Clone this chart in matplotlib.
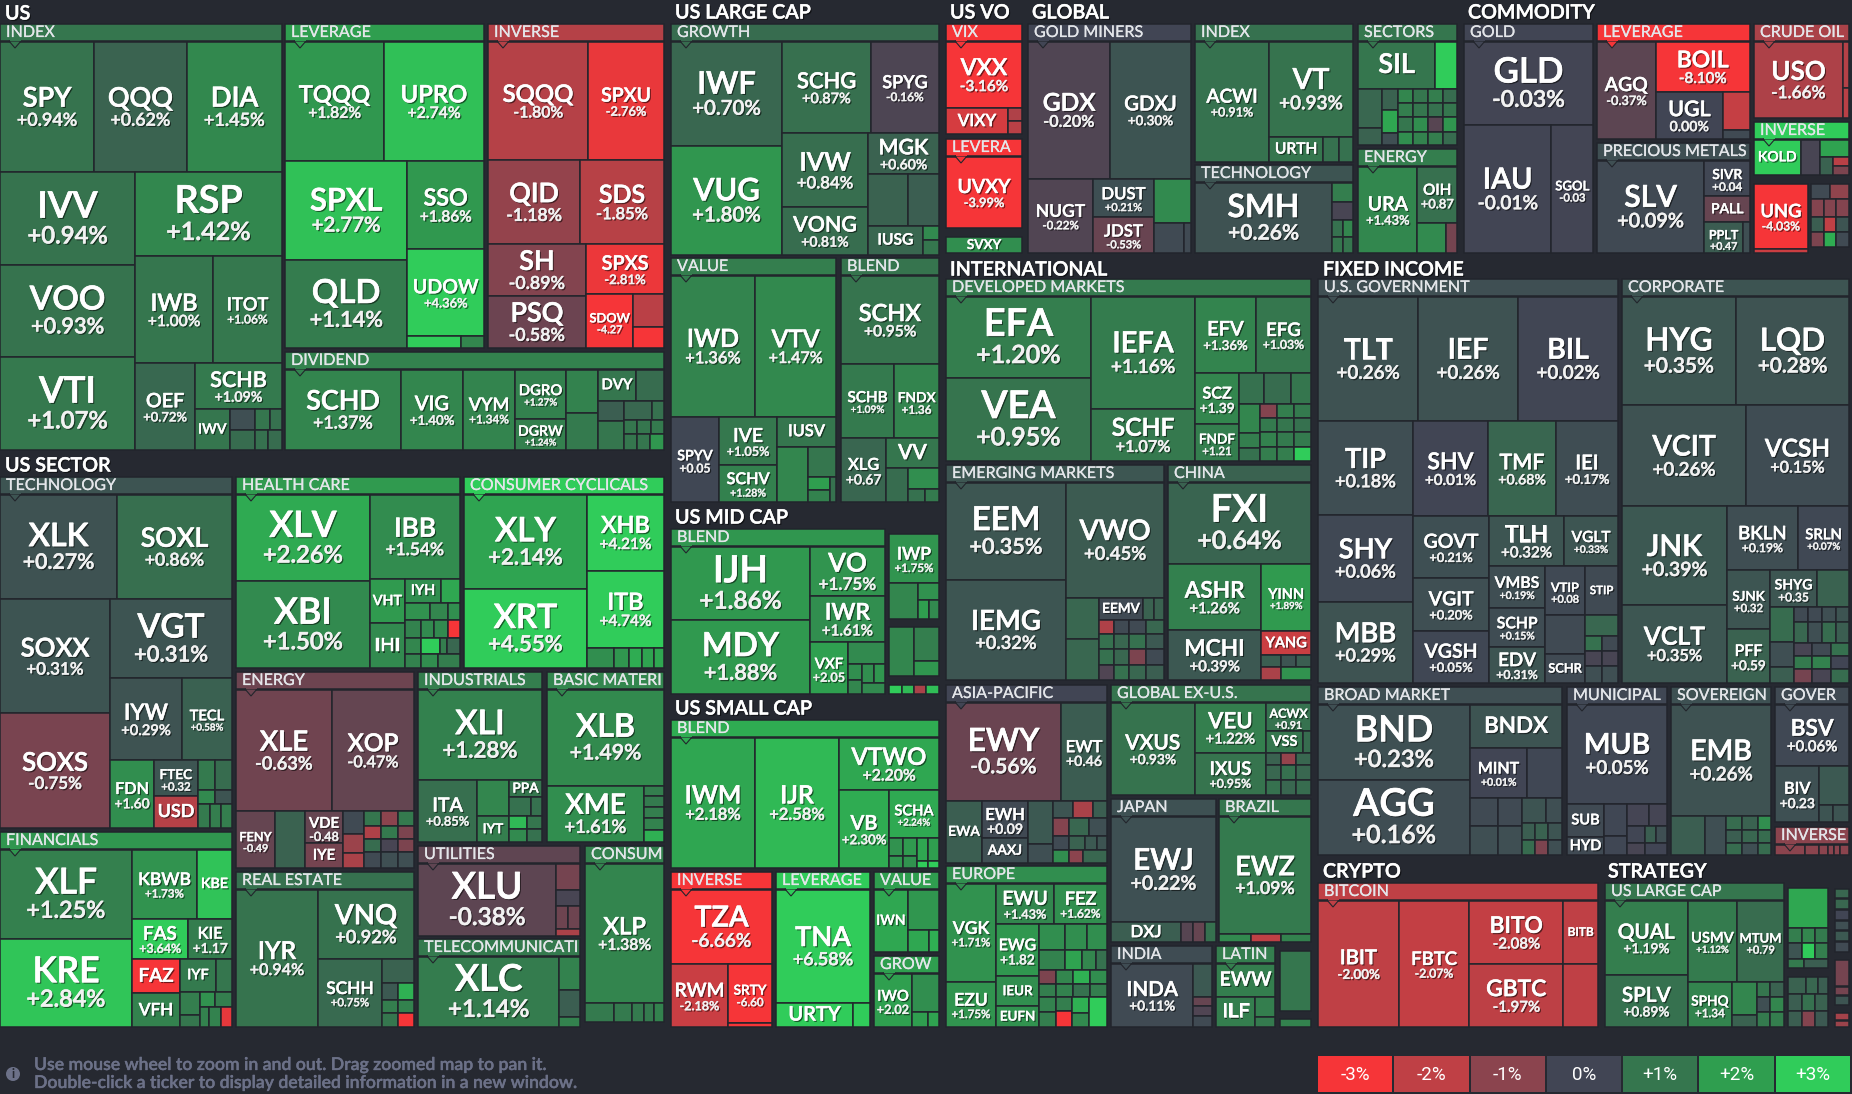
import numpy as np
import matplotlib
matplotlib.use("Agg")
import matplotlib.pyplot as plt
from matplotlib.patches import Rectangle, Polygon, Circle
from matplotlib.textpath import TextPath
from matplotlib.font_manager import FontProperties
import matplotlib.patheffects as pe

# ---------- data ----------
US_TICKERS = ["SPY","QQQ","DIA","IVV","RSP","VOO","IWB","ITOT","VTI","OEF","SCHB","IWV","TQQQ","UPRO","SPXL","SSO","QLD","UDOW","SQQQ","SPXU","QID","SDS","SH","SPXS","PSQ","SDOW","SCHD","VIG","VYM","DGRO","DGRW","DVY"]
US_CHANGES = [.94,.62,1.45,.94,1.42,.93,1.00,1.06,1.07,.72,1.09,1.0,1.82,2.74,2.77,1.86,1.14,4.36,-1.80,-2.76,-1.18,-1.85,-.89,-2.81,-.58,-4.27,1.37,1.40,1.34,1.27,1.24,1.0]
SECTOR_TICKERS = ["XLK","SOXL","SOXX","VGT","IYW","TECL","SOXS","FDN","FTEC","USD","XLV","IBB","XBI","VHT","IYH","IHI","XLY","XHB","XRT","ITB","XLE","XOP","FENY","VDE","IYE","XLI","ITA","PPA","IYT","XLB","XME","XLF","KBWB","KBE","KRE","FAS","KIE","FAZ","IYF","VFH","IYR","VNQ","SCHH","XLU","XLC","XLP"]
SECTOR_CHANGES = [.27,.86,.31,.31,.29,.58,-.75,1.60,.32,-1.8,2.26,1.54,1.50,1.9,1.6,1.5,2.14,4.21,4.55,4.74,-.63,-.47,-.49,-.48,-.7,1.28,.85,1.0,1.2,1.49,1.61,1.25,1.73,2.8,2.84,3.64,1.17,-3.8,1.1,1.3,.94,.92,.75,-.38,1.14,1.38]
LARGE_TICKERS = ["IWF","SCHG","SPYG","VUG","IVW","MGK","VONG","IUSG","IWD","VTV","SPYV","IVE","IUSV","SCHV","SCHX","FNDX","XLG","VV"]
LARGE_CHANGES = [.70,.87,-.16,1.80,.84,.60,.81,.7,1.36,1.47,.05,1.05,1.0,1.28,.95,1.36,.67,1.0]
MID_SMALL_TICKERS = ["IJH","VO","IWR","MDY","VXF","IWP","IWM","IJR","VTWO","VB","SCHA","TZA","RWM","SRTY","TNA","URTY","IWN","IWO"]
MID_SMALL_CHANGES = [1.86,1.75,1.61,1.88,2.05,1.75,2.18,2.58,2.20,2.30,2.24,-6.66,-2.18,-6.60,6.58,3.5,2.2,2.02]
VOL_TICKERS = ["VXX","VIXY","UVXY","SVXY"]
VOL_CHANGES = [-3.16,-2.4,-3.99,1.6]
GLOBAL_TICKERS = ["GDX","GDXJ","NUGT","DUST","JDST","ACWI","VT","URTH","SMH","SIL","URA","OIH"]
GLOBAL_CHANGES = [-.20,.30,-.22,.21,-.53,.91,.93,1.0,.26,1.0,1.43,.87]
COMMODITY_TICKERS = ["GLD","IAU","SGOL","AGQ","BOIL","UGL","SLV","SIVR","PALL","PPLT","USO","KOLD","UNG"]
COMMODITY_CHANGES = [-.03,-.01,-.03,-.37,-8.10,0.0,.09,.04,-.5,.47,-1.66,3.2,-4.03]
INTL_TICKERS = ["EFA","VEA","IEFA","SCHF","EFV","EFG","SCZ","FNDF","EEM","IEMG","VWO","EEMV","FXI","ASHR","YINN","MCHI","YANG","EWY","EWT","EWA","EWH","AAXJ","VXUS","VEU","IXUS","ACWX","VSS","EWJ","DXJ","EWZ","INDA","EWW","ILF","VGK","EWU","FEZ","EWG","IEUR","EZU","EUFN"]
INTL_CHANGES = [1.20,.95,1.16,1.07,1.36,1.03,1.39,1.21,.35,.32,.45,.1,.64,1.26,1.89,.39,-2.2,-.56,.46,.5,.09,.2,.93,1.22,.95,.91,1.0,.22,.5,1.09,.11,1.2,1.2,1.71,1.43,1.62,1.82,1.6,1.75,1.7]
FIXED_TICKERS = ["TLT","IEF","BIL","TIP","SHV","TMF","IEI","SHY","GOVT","TLH","VGLT","VMBS","VTIP","STIP","SCHP","EDV","SCHR","MBB","VGIT","VGSH","HYG","LQD","VCIT","VCSH","JNK","VCLT","BKLN","SRLN","SJNK","SHYG","PFF","BND","AGG","BNDX","MINT","MUB","SUB","HYD","EMB","BSV","BIV"]
FIXED_CHANGES = [.26,.26,.02,.18,.01,.68,.17,.06,.21,.32,.33,.19,.08,.1,.15,.31,.1,.29,.20,.05,.35,.28,.26,.15,.39,.35,.19,.07,.32,.35,.59,.23,.16,.3,.01,.05,.1,.1,.26,.06,.23]
CRYPTO_TICKERS = ["IBIT","FBTC","BITO","GBTC","BITB"]
CRYPTO_CHANGES = [-2.00,-2.07,-2.08,-1.97,-2.0]
STRATEGY_TICKERS = ["QUAL","USMV","MTUM","SPLV","SPHQ"]
STRATEGY_CHANGES = [1.19,1.12,.79,.89,1.34]

NO_PERCENT = {"SDOW","FDN","FTEC","FENY","VDE","KIE","SPYV","FNDX","XLG","VXF","SRTY","IWO","OIH","SGOL","SIVR","PPLT","SCZ","FNDF","EWT","EWH","ACWX","EWG","VTIP","SJNK","SHYG","PFF","BIV","MTUM","SPHQ"}
LABEL_ONLY = {"IWV","DVY","USD","VHT","IYH","IHI","IYE","PPA","IYT","KBE","FAZ","IYF","VFH","IUSG","IUSV","VV","URTY","IWN","VIXY","SVXY","URTH","SIL","PALL","KOLD","EEMV","YANG","EWA","AAXJ","VSS","DXJ","EWW","ILF","IEUR","EUFN","STIP","SCHR","BNDX","SUB","HYD","BITB"}

LEGEND_VALUES = [-3, -2, -1, 0, 1, 2, 3]
LEGEND_LABELS = ["-3%", "-2%", "-1%", "0%", "+1%", "+2%", "+3%"]
FOOTER_LINES = ["Use mouse wheel to zoom in and out. Drag zoomed map to pan it.",
                "Double-click a ticker to display detailed information in a new window."]

# ---------- style ----------
LEGEND_COLORS = ["#F63538", "#BF4045", "#8B444E", "#414554", "#35764E", "#2F9E4F", "#30CC5A"]
BG = "#262931"
EDGE = "#22252C"
FONT = "Lato"
WEIGHT = "semibold"
PT = 0.72  # points per pixel at dpi 100
FONT_PX = {"MDY":33,"VOO":33,"SMH":32,"BND":36,"SPXL":31,"QLD":33,"SIL":27,"ILF":20,"IHI":19,"USD":18,"FAZ":19,"URTY":20,"IAU":29,"IEFA":29,"EFV":20}

plt.rcParams["font.family"] = [FONT, "DejaVu Sans"]
CHG = dict(zip(US_TICKERS, US_CHANGES))
for t, c in [(SECTOR_TICKERS, SECTOR_CHANGES), (LARGE_TICKERS, LARGE_CHANGES), (MID_SMALL_TICKERS, MID_SMALL_CHANGES),
             (VOL_TICKERS, VOL_CHANGES), (GLOBAL_TICKERS, GLOBAL_CHANGES), (COMMODITY_TICKERS, COMMODITY_CHANGES),
             (INTL_TICKERS, INTL_CHANGES), (FIXED_TICKERS, FIXED_CHANGES), (CRYPTO_TICKERS, CRYPTO_CHANGES),
             (STRATEGY_TICKERS, STRATEGY_CHANGES)]:
    CHG.update(zip(t, c))

rgb = np.array([matplotlib.colors.to_rgb(c) for c in LEGEND_COLORS])
def colour(v):
    return tuple(np.interp(v, LEGEND_VALUES, rgb[:, i]) for i in range(3))

# ---------- treemap split structure: size, child, size, child ... ----------
def H(*a): return ("H", a[0::2], a[1::2])
def V(*a): return ("V", a[0::2], a[1::2])

SECTION_TITLES = [("US",5,14),("US SECTOR",5,466),("US LARGE CAP",675,13),("US MID CAP",675,518),("US SMALL CAP",675,709),
                  ("US VO",950,13),("GLOBAL",1032,13),("COMMODITY",1468,13),("INTERNATIONAL",950,270),("FIXED INCOME",1323,270),
                  ("CRYPTO",1323,872),("STRATEGY",1608,872)]

# name, left, top, right, bottom, header change, tree
PANELS = [
("INDEX",0,24,282,450,1.0,V(131,H(94,"SPY",93,"QQQ",95,"DIA"),278,H(135,V(92,"IVV",92,"VOO",93,"VTI"),147,V(84,"RSP",107,H(78,"IWB",69,"ITOT"),87,H(60,"OEF",87,V(46,"SCHB",41,H(35,"IWV",26,V(21,.2,20,.8),27,V(21,H(15,1.0,12,.9),20,H(13,.9,14,.8))))))))),
("LEVERAGE",285,24,484,348,2.0,V(120,H(99,"TQQQ",100,"UPRO"),187,H(123,V(99,"SPXL",88,"QLD"),77,V(88,"SSO",87,"UDOW",12,H(54,3.2,23,1.4))))),
("INVERSE",488,24,664,348,-1.8,V(119,H(100,"SQQQ",76,"SPXU"),84,H(92,"QID",84,"SDS"),104,H(98,V(52,"SH",52,"PSQ"),78,V(50,"SPXS",54,H(47,"SDOW",31,V(33,-1.9,21,-3.0)))))),
("DIVIDEND",285,352,664,450,1.3,H(116,"SCHD",62,"VIG",52,"VYM",51,V(50,"DGRO",32,"DGRW"),32,V(44,1.3,38,1.1),66,V(32,H(38,"DVY",28,.8),50,H(26,V(20,.5,30,1.0),40,V(19,H(28,.7,12,.9),15,H(13,1.0,13,1.0,13,1.1),16,H(13,1.0,13,1.0,14,1.8)))))),
("TECHNOLOGY",0,477,232,828,.3,V(105,H(117,"XLK",115,"SOXL"),229,H(110,V(114,"SOXX",115,"SOXS"),122,V(79,"VGT",82,H(72,"IYW",50,"TECL"),68,H(44,"FDN",44,V(36,"FTEC",32,"USD"),34,V(30,H(18,1.1,17,.8),14,H(18,1.5,17,.3),24,H(12,1.1,12,1.2,11,1.2))))))),
("HEALTH CARE",236,477,460,668,1.9,H(134,V(87,"XLV",88,"XBI"),90,V(85,"IBB",90,H(35,V(45,"VHT",45,"IHI"),55,V(24,H(36,"IYH",19,2.2),18,H(25,1.7,18,1.4,12,1.6),18,H(16,1.3,13,1.5,14,1.5,12,-3.2),16,H(16,1.4,19,3.0,7,1.2,13,.7),14,H(16,1.3,17,1.6,22,1.2)))))),
("CONSUMER CYCLICALS",464,477,664,668,3.0,H(123,V(95,"XLY",80,"XRT"),77,V(77,"XHB",78,"ITB",20,H(27,1.6,15,1.8,13,2.3,12,2.1,10,2.2)))),
("ENERGY",236,672,414,868,-.6,V(123,H(96,"XLE",82,"XOP"),57,H(39,"FENY",30,.6,38,V(32,"VDE",25,"IYE"),21,V(23,.1,19,-1.3,15,-1.6),50,V(15,H(17,1.0,17,-1.0,16,1.1),13,H(17,-1.7,17,1.1,16,-.8),13,H(17,.8,17,-.1,16,-.8),16,H(17,.1,17,.2,16,.2))))),
("INDUSTRIALS",418,672,542,842,1.2,V(91,"XLI",63,H(59,"ITA",32,V(37,1.4,26,"IYT"),33,V(18,"PPA",19,H(22,.9,11,.9),13,H(18,2.6,15,1.0),13,H(18,1.5,15,.9))))),
("BASIC MATERI",547,672,664,842,1.4,V(97,"XLB",57,H(97,"XME",20,V(11,1.2,11,1.1,11,1.2,12,1.3,12,2.4)))),
("FINANCIALS",0,832,232,1027,1.8,H(132,V(90,"XLF",89,"KRE"),100,V(70,H(65,"KBWB",35,"KBE"),41,H(56,"FAS",44,"KIE"),69,H(48,V(35,"FAZ",34,"VFH"),52,V(33,H(36,"IYF",16,1.0),36,H(20,V(24,1.2,12,1.0),33,V(16,H(16,1.7,17,1.2),20,H(10,1.3,12,1.3,11,-2.7)))))))),
("REAL ESTATE",236,872,414,1027,.9,H(82,"IYR",96,V(70,"VNQ",69,H(64,"SCHH",32,V(25,.6,17,H(16,.4,16,2.4),13,H(16,1.2,16,1.3),14,H(16,1.0,16,-3.0)))))),
("UTILITIES",418,846,580,936,-.4,H(139,"XLU",24,V(27,-.7,16,-.1,24,H(12,-.6,12,-.6),7,-1.6))),
("TELECOMMUNICATI",418,939,580,1027,1.1,H(142,"XLC",21,V(34,1.3,28,.5,10,1.3))),
("CONSUM",585,846,664,1022,1.3,V(141,"XLP",19,H(29,1.1,18,1.1,12,1.1,10,1.1,10,1.3))),
("GROWTH",671,24,939,255,.8,H(111,V(105,"IWF",109,"VUG"),157,V(92,H(89,"SCHG",68,"SPYG"),122,H(86,V(74,"IVW",48,"VONG"),71,V(41,"MGK",52,H(40,.6,31,.5),29,H(55,"IUSG",16,V(14,1.5,15,1.0))))))),
("VALUE",671,258,836,502,1.2,V(142,H(84,"IWD",81,"VTV"),85,H(48,"SPYV",58,V(48,"IVE",37,"SCHV"),59,V(30,"IUSV",55,H(31,1.4,28,V(30,1.0,25,H(22,V(13,2.0,12,1.3),6,.9))))))),
("BLEND",841,258,939,502,.95,V(89,"SCHX",74,H(53,"SCHB",45,"FNDX"),64,H(45,"XLG",53,V(30,"VV",34,H(22,.8,31,V(21,1.6,13,H(17,.9,14,1.1))))))),
("BLEND",671,529,885,694,1.8,H(139,V(74,"IJH",74,"MDY"),75,V(50,"VO",46,"IWR",52,H(38,"VXF",37,V(22,1.5,30,H(14,V(16,1.6,14,1.4),23,V(19,H(12,1.6,11,1.8),11,1.5))))))),
(None,889,534,939,619,1.7,V(49,"IWP",36,H(29,1.4,21,V(17,1.7,19,H(11,2.0,10,1.5))))),
(None,889,627,939,676,1.5,H(25,1.4,25,V(35,1.2,15,1.8))),
(None,889,685,939,694,1.5,H(13,3.0,12,2.6,12,-1.6,13,2.7)),
("BLEND",671,720,939,868,2.3,H(84,"IWM",84,"IJR",100,V(53,"VTWO",78,H(50,"VB",50,V(48,"SCHA",30,H(14,V(18,1.7,12,1.8),14,V(18,1.9,12,1.7),11,V(23,2.2,7,3.0),11,V(23,2.0,7,3.0))))))),
("INVERSE",671,872,772,1027,-3.0,V(75,"TZA",63,H(57,"RWM",44,V(59,"SRTY",4,-3.2)))),
("LEVERAGE",776,872,870,1027,3.2,V(114,"TNA",24,H(77,"URTY",17,3.2))),
("VALUE",874,872,939,952,2.0,H(34,"IWN",31,V(41,1.8,22,H(21,2.2,10,2.4)))),
("GROW",874,956,939,1027,2.0,H(38,"IWO",27,V(40,1.6,15,H(16,2.0,11,2.1)))),
("VIX",946,24,1022,134,-3.2,V(67,"VXX",26,H(62,"VIXY",14,V(13,-1.7,13,-1.9)))),
("LEVERA",946,139,1022,228,-4.0,H(1,"UVXY")),
(None,946,237,1022,253,1.6,H(1,"SVXY")),
("GOLD MINERS",1028,24,1191,253,0.0,V(138,H(82,"GDX",81,"GDXJ"),75,H(65,"NUGT",61,V(39,"DUST",36,"JDST"),37,V(45,1.5,30,H(30,.1,7,.1))))),
("INDEX",1195,24,1353,162,.9,H(74,"ACWI",84,V(96,"VT",25,H(55,"URTH",16,.9,14,.9)))),
("TECHNOLOGY",1195,165,1353,253,.3,H(137,"SMH",21,V(19,1.2,18,-.1,33,H(11,V(17,.9,16,1.0),10,V(17,1.4,16,1.0))))),
("SECTORS",1358,24,1457,145,1.0,V(48,H(77,"SIL",22,3.0),56,H(24,V(39,.7,17,.6),16,V(21,.6,23,2.2,12,.2),59,V(14,H(15,1.4,15,1.0,15,1.2,14,.8),14,H(15,1.2,15,1.0,15,.9,14,1.0),15,H(15,1.0,15,1.6,15,-.3,14,1.8),13,H(15,1.6,15,1.3,15,1.2,14,.8))))),
("ENERGY",1358,149,1457,253,1.2,H(60,"URA",40,V(57,"OIH",31,H(29,1.5,11,-.7)))),
("GOLD",1464,24,1593,253,0.0,V(84,"GLD",128,H(88,"IAU",42,"SGOL"))),
("LEVERAGE",1597,24,1750,139,-3.5,H(59,"AGQ",95,V(51,"BOIL",47,H(68,"UGL",27,V(38,-2.1,9,0.1))))),
("PRECIOUS METALS",1597,143,1750,253,.2,H(108,"SLV",46,V(36,"SIVR",27,"PALL",31,H(39,"PPLT",7,.2)))),
("CRUDE OIL",1754,24,1849,118,-1.6,H(90,"USO",6,V(47,-1.8,30,-1.9))),
("INVERSE",1754,122,1849,175,3.2,H(47,"KOLD",20,-.1,29,V(18,2.1,19,H(13,.6,16,V(10,-1.9,9,-.8))))),
(None,1754,184,1808,253,-4.0,V(65,"UNG",4,-2.2)),
(None,1811,184,1849,247,-.5,V(15,H(19,.1,19,-1.1),18,H(13,-.9,12,-.9,13,-.9),15,H(13,.5,12,-2.0,13,.3),15,H(13,-.8,12,2.3,13,.1))),
("DEVELOPED MARKETS",946,279,1311,461,1.1,H(145,V(82,"EFA",83,"VEA"),104,V(113,"IEFA",52,"SCHF"),116,V(77,H(61,"EFV",55,"EFG"),88,H(44,V(51,"SCZ",37,"FNDF"),72,V(31,H(25,.9,27,.8,20,1.0),57,H(21,V(29,1.4,15,1.2,13,.9),51,V(14,H(17,-.9,17,1.2,17,1.1),14,H(17,1.1,17,1.0,17,.9),15,H(17,1.3,17,1.1,17,1.1),14,H(17,1.2,17,1.2,17,3.0)))))))),
("EMERGING MARKETS",946,465,1164,680,.35,H(120,V(98,"EEM",101,"IEMG"),98,V(116,"VWO",83,H(33,V(42,.7,41,.7),65,V(22,H(44,"EEMV",11,.6,10,.6),14,H(15,-1.7,15,.1,17,.1,18,.7),15,H(15,.9,15,.7,17,.9,18,.4),16,H(15,.9,15,.7,17,-.8,18,.1),15,H(15,-.2,15,.9,17,.7,18,.5)))))),
("CHINA",1168,465,1311,680,.6,V(82,"FXI",117,H(94,V(67,"ASHR",50,"MCHI"),50,V(68,"YINN",24,"YANG",12,H(20,.5,15,.3,15,.5),13,H(20,-1.6,30,1.7))))),
("ASIA-PACIFIC",946,685,1107,863,0.0,V(99,H(115,"EWY",46,"EWT"),63,H(36,"EWA",46,V(38,"EWH",25,"AAXJ"),25,V(44,.4,19,.2),54,V(18,H(20,.3,20,-1.6,14,.5),18,H(16,-.9,20,.7,18,.2),14,H(16,.1,16,.6,12,.4,10,.3),13,H(16,1.6,14,-1.0,24,.7))))),
("GLOBAL EX-U.S.",1111,685,1311,795,.95,H(84,"VXUS",72,V(51,"VEU",43,"IXUS"),45,V(29,"ACWX",22,H(36,"VSS",8,.8),43,V(13,H(15,.6,15,-1.2,15,.7),15,H(15,.7,15,.9,15,.7),15,H(15,.9,15,.7,15,.8))))),
("JAPAN",1111,799,1216,942,.25,V(107,"EWJ",20,H(70,"DXJ",12,-.3,12,-.5,11,.9))),
("BRAZIL",1219,799,1311,942,1.0,V(119,"EWZ",8,H(32,1.5,30,-2.0,30,1.3))),
("INDIA",1111,946,1212,1027,.15,H(83,"INDA",19,V(34,.4,10,-.5,10,-.2,11,.1))),
("LATIN",1216,946,1275,1027,1.2,V(34,"EWW",31,H(40,"ILF",20,V(21,1.2,10,1.1)))),
(None,1280,951,1311,1011,1.0,H(1,1.0)),
(None,1280,1019,1311,1027,1.0,H(1,1.3)),
("EUROPE",946,866,1107,1027,1.6,H(50,V(99,"VGK",45,"EZU"),111,V(41,H(58,"EWU",53,"FEZ"),103,H(43,V(52,"EWG",30,"IEUR",21,"EUFN"),68,V(26,H(26,1.6,22,1.6,20,1.6),20,H(26,1.3,17,2.1,14,1.4,11,.9),14,H(17,-.8,17,1.4,17,2.4,17,1.6),13,H(17,1.2,17,1.3,17,.9,17,1.2),30,H(17,V(15,1.3,15,1.2),16,V(14,1.2,16,-3.6),17,V(16,2.4,14,1.5),18,V(30,3.0))))))),
("U.S. GOVERNMENT",1318,279,1618,683,.2,V(125,H(100,"TLT",100,"IEF",100,"BIL"),262,H(95,V(94,"TIP",87,"SHY",81,"MBB"),205,V(95,H(75,"SHV",68,"TMF",62,"IEI"),167,H(76,V(62,"GOVT",53,"VGIT",52,"VGSH"),129,V(50,H(75,"TLH",54,"VGLT"),117,H(56,V(42,"VMBS",39,"SCHP",36,"EDV"),73,V(49,H(40,"VTIP",33,"STIP"),68,H(40,V(39,.1,29,"SCHR"),33,V(21,.7,15,H(17,.9,16,.1),15,H(17,-.1,16,-.1),17,H(17,.2,16,.2))))))))))),
("CORPORATE",1622,279,1849,683,.3,V(109,H(114,"HYG",113,"LQD"),101,H(124,"VCIT",103,"VCSH"),177,H(105,V(99,"JNK",78,"VCLT"),122,V(64,H(71,"BKLN",51,"SRLN"),113,H(43,V(59,"SJNK",54,"PFF"),79,V(37,H(47,"SHYG",32,.6),76,H(24,V(35,.8,25,.2,16,.5),55,V(15,H(14,.1,14,.1,14,.2,13,.3),20,H(14,.7,14,.2,14,.8,13,.5),13,H(18,-.1,19,.1,18,.9),13,H(18,1.1,19,1.3,18,0.0),14,H(18,-.7,19,-.1,18,.8))))))))),
("BROAD MARKET",1318,687,1562,855,.2,H(152,V(76,"BND",76,"AGG"),92,V(44,"BNDX",50,H(57,"MINT",35,.05),58,H(28,V(29,.1,29,.2),24,V(29,.1,29,.2),40,V(26,H(24,.3,16,.2),17,H(13,.5,13,.6,14,.3),15,H(13,.8,13,-.8,14,.2)))))),
("MUNICIPAL",1567,687,1667,855,.05,V(100,"MUB",52,H(37,V(34,"SUB",18,"HYD"),23,V(33,.05,19,.05),40,V(23,H(22,-.05,18,-.05),17,H(18,.02,11,.5,11,.2),12,H(18,-.1,22,.0))))),
("SOVEREIGN",1671,687,1771,855,.25,V(113,"EMB",39,H(34,.5,22,.2,45,V(14,H(16,.8,16,.6,13,1.6),13,H(16,.5,16,.7,13,.8),12,H(16,.8,16,.2,13,.8))))),
("GOVER",1775,687,1849,822,.1,V(62,"BSV",57,H(45,"BIV",30,V(40,.4,17,H(14,.3,16,.3))))),
("INVERSE",1775,827,1849,855,-1.0,H(30,-1.0,13,-1.0,9,-1.0,6,-1.0,6,-1.0,9,-1.0)),
("BITCOIN",1318,883,1598,1027,-2.0,H(81,"IBIT",71,"FBTC",94,V(64,"BITO",63,"GBTC"),35,V(64,"BITB",63,-2.0))),
("US LARGE CAP",1605,883,1784,1027,1.0,H(83,V(75,"QUAL",52,"SPLV"),97,V(82,H(50,"USMV",47,"MTUM"),45,H(45,"SPHQ",25,V(33,1.4,12,.6),27,V(15,H(13,1.0,14,.6),15,H(13,.2,14,1.4),15,H(13,1.1,14,1.2)))))),
(None,1788,888,1828,968,1.3,V(41,2.2,15,H(14,1.2,14,1.4,13,1.1),16,H(14,.3,14,3.0,13,1.2),9,H(16,1.1,25,.5))),
(None,1788,977,1828,1027,.5,V(17,H(18,.6,13,.7,10,.5),17,H(14,.5,14,.9,13,.6),16,H(14,.5,14,-.9,13,.4))),
(None,1835,889,1849,898,.7,H(1,.7)),(None,1835,899,1849,909,.7,H(1,.7)),(None,1835,910,1849,920,.0,H(1,.0)),
(None,1835,921,1849,930,.2,H(1,.2)),(None,1835,931,1849,941,.4,H(1,.4)),(None,1835,942,1849,952,.1,H(1,.1)),
(None,1835,960,1849,986,-.7,H(1,-.7)),(None,1835,987,1849,995,-.7,H(1,-.7)),(None,1835,996,1849,1005,.3,H(1,.3)),
(None,1835,1013,1849,1020,-1.5,H(1,-1.5)),(None,1835,1021,1849,1027,-1.3,H(1,-1.3)),
]

# ---------- drawing ----------
fig = plt.figure(figsize=(18.52, 10.94), dpi=100, facecolor=BG)
ax = fig.add_axes([0, 0, 1, 1])
ax.set_xlim(0, 1852); ax.set_ylim(1094, 0); ax.axis("off")

def effects(px, colour_="white"):
    # soft drop shadow plus a hair of stroke, which gives the medium weight of the reference
    return [pe.SimplePatchShadow(offset=(1, -1), shadow_rgbFace="black", alpha=0.55),
            pe.Stroke(linewidth=0.012 * px + 0.12, foreground=colour_), pe.Normal()]

fp = FontProperties(family=FONT, weight=WEIGHT)
_cache = {}
def em_width(s):
    if s not in _cache:
        _cache[s] = TextPath((0, 0), s, size=1, prop=fp).get_extents().width
    return _cache[s]

LEN_SCALE = {1: 1.15, 2: 1.15, 3: 1.0, 4: 0.84, 5: 0.75}

def draw_leaf(key, x0, y0, x1, y1):
    val = CHG[key] if isinstance(key, str) else key
    w, h = x1 - x0, y1 - y0
    ax.add_patch(Rectangle((x0, y0), w, h, facecolor=colour(val), edgecolor=EDGE, lw=1.1))
    if not isinstance(key, str):
        return
    cx, cy = (x0 + x1) / 2, (y0 + y1) / 2
    px = (0.22 * w + 6.5) * LEN_SCALE[len(key)]
    px = min(px, 0.85 * w / em_width(key), 38)
    if key in FONT_PX:
        px = FONT_PX[key]
    if key in LABEL_ONLY:
        px = min(px, 0.85 * h)
        ax.text(cx, cy, key, ha="center", va="center", fontsize=px * PT, color="white", path_effects=effects(px), fontweight=WEIGHT)
        return
    px = min(px, 0.52 * h)
    nopct = key in NO_PERCENT
    txt = f"{val:+.2f}" if nopct else (f"{val:+.2f}%" if val != 0 else "0.00%")
    sub = px * (0.85 if nopct else 0.66)
    sub = min(sub, 0.88 * w / em_width(txt))
    gap = 0.48 * (px + sub)
    top = cy - gap / 2 + 3
    ax.text(cx, top, key, ha="center", va="center", fontsize=px * PT, color="white", path_effects=effects(px), fontweight=WEIGHT)
    ax.text(cx, top + gap, txt, ha="center", va="center", fontsize=sub * PT, color="#F2F2F2", path_effects=effects(sub, "#F2F2F2"), fontweight=WEIGHT)

def layout(node, x0, y0, x1, y1):
    if not isinstance(node, tuple):
        draw_leaf(node, x0, y0, x1, y1)
        return
    kind, sizes, kids = node
    edges = np.cumsum([0] + list(sizes)) / sum(sizes)
    for a, b, kid in zip(edges[:-1], edges[1:], kids):
        if kind == "H":
            layout(kid, x0 + a * (x1 - x0), y0, x0 + b * (x1 - x0), y1)
        else:
            layout(kid, x0, y0 + a * (y1 - y0), x1, y0 + b * (y1 - y0))

HEADER = 17
for name, x0, y0, x1, y1, chg, tree in PANELS:
    if name is None:
        layout(tree, x0, y0, x1, y1)
        continue
    head = colour(chg)
    ax.add_patch(Rectangle((x0, y0), x1 - x0, HEADER, facecolor=head, edgecolor=EDGE, lw=1.1))
    layout(tree, x0, y0 + HEADER + 0.5, x1, y1)
    ax.add_patch(Polygon([(x0 + 9, y0 + HEADER), (x0 + 21, y0 + HEADER), (x0 + 15, y0 + HEADER + 7)],
                         closed=True, facecolor=head, edgecolor=EDGE, lw=0.8))
    ax.add_patch(Rectangle((x0 + 9.5, y0 + HEADER - 1.2), 11, 1.6, facecolor=head, edgecolor="none"))
    ax.text(x0 + 6, y0 + HEADER / 2 + 0.5, name, ha="left", va="center", fontsize=11.6, color="#E4E6EA", clip_on=True,
            path_effects=[pe.Stroke(linewidth=0.15, foreground="#E4E6EA"), pe.Normal()])

for title, x, y in SECTION_TITLES:
    ax.text(x, y, title, ha="left", va="center", fontsize=14.2, color="white", fontweight=WEIGHT, path_effects=effects(20))

# legend
cell_w = (1852 - 1318) / len(LEGEND_VALUES)
for i, (v, lab) in enumerate(zip(LEGEND_VALUES, LEGEND_LABELS)):
    x = 1318 + i * cell_w
    ax.add_patch(Rectangle((x, 1056), cell_w - 2, 36, facecolor=colour(v), edgecolor="none"))
    ax.text(x + (cell_w - 2) / 2, 1074.5, lab, ha="center", va="center", fontsize=13.5, color="white", family="Roboto")

# footer
ax.add_patch(Circle((13, 1074), 7, facecolor="#6C7188", edgecolor="none"))
ax.text(13, 1074, "i", ha="center", va="center", fontsize=9, color=BG, fontweight="bold")
for line, y in zip(FOOTER_LINES, (1065, 1083)):
    ax.text(34, y, line, ha="left", va="center", fontsize=12.7, color="#6C7188", fontweight=WEIGHT,
            path_effects=[pe.Stroke(linewidth=0.25, foreground="#6C7188"), pe.Normal()])

fig.savefig("out.png", dpi=100, facecolor=BG)
